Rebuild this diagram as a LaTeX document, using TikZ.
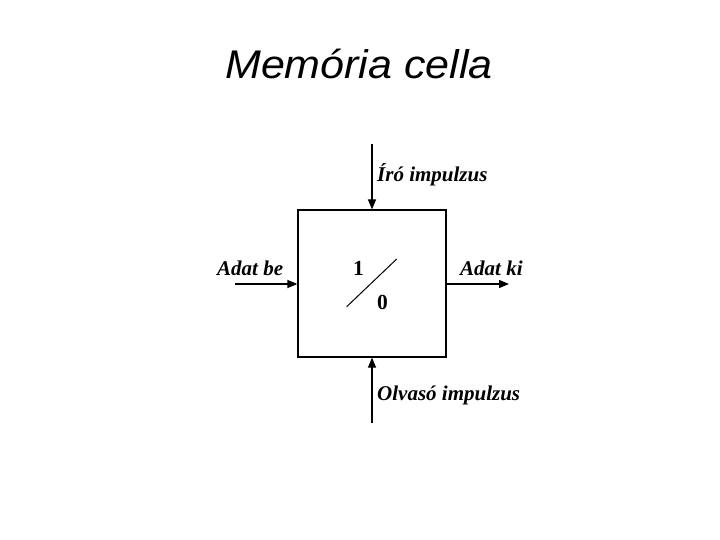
\documentclass[tikz,border=0pt]{standalone}
\usepackage{fontspec}
\setmainfont{Liberation Serif}
\newfontfamily\titlefont{Liberation Sans}
\usetikzlibrary{positioning,arrows.meta}

\begin{document}
\begin{tikzpicture}[x=1pt, y=-1pt,
  cell/.style={draw, line width=1.2pt, minimum width=148pt, minimum height=147pt,
    inner sep=0pt},
  lbl/.style={font=\fontsize{21}{24}\selectfont\bfseries\itshape, inner sep=0pt,
    anchor=base west},
  bit/.style={font=\fontsize{21.5}{24}\selectfont\bfseries, inner sep=0pt, anchor=base},
  arr/.style={-{Triangle[length=10pt, width=8pt]}, line width=1.2pt},
]
  \useasboundingbox (0,0) rectangle (720,540);

  \node[font=\titlefont\itshape\fontsize{40}{46}\selectfont, anchor=base west,
    inner sep=0pt, xscale=1.075] (title) at (225,79) {Memória cella};

  % memory cell
  \node[cell] (cell) at (372,283.5) {};
  \node[bit] (one) at (358.5,275) {1};
  \node[bit] (zero) at (382.5,309) {0};
  \draw[line width=1pt] (346.7,306.7) -- (396.7,259);

  % inputs and outputs
  \coordinate (write) at (372,144);
  \coordinate (read) at (372,423);
  \coordinate (din) at (235,284);
  \coordinate (dout) at (509,284);

  \draw[arr] (write) -- (cell.north);
  \draw[arr] (read) -- (cell.south);
  \draw[arr] (din) -- (din -| cell.west);
  \draw[arr] (dout -| cell.east) -- (dout);

  \node[lbl] (writelbl) at (377,182) {Író impulzus};
  \node[lbl] (readlbl) at (377,400.5) {Olvasó impulzus};
  \node[lbl] (dinlbl) at (217,275.5) {Adat be};
  \node[lbl] (doutlbl) at (460,275.5) {Adat ki};
\end{tikzpicture}
\end{document}
